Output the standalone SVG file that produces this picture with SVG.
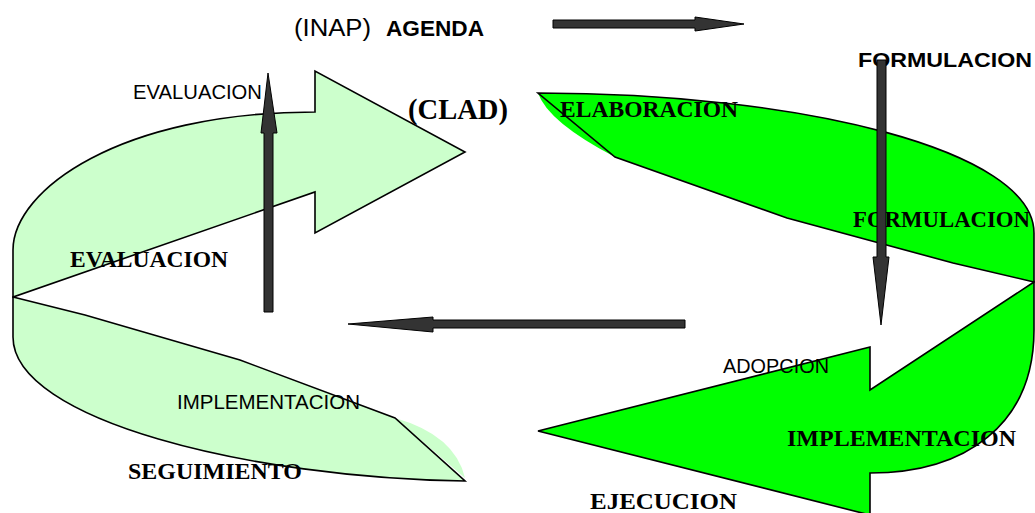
<svg xmlns="http://www.w3.org/2000/svg" xmlns:xlink="http://www.w3.org/1999/xlink" width="1035" height="513" viewBox="0 0 1035 513">
<style>
.lg{fill:#CCFFCC;stroke:none}
.dg{fill:#00FF00;stroke:none}
.ol{fill:none;stroke:#000;stroke-width:1.6;stroke-linejoin:miter}
.dk{fill:#333333;stroke:#000;stroke-width:1}
.sans{font-family:"Liberation Sans",Arial,sans-serif;fill:#000}
.sb{font-family:"Liberation Sans",Arial,sans-serif;font-weight:bold;fill:#000}
.serif{font-family:"Liberation Serif","Times New Roman",serif;font-weight:bold;fill:#000}
</style>
<defs>
<path id="pA" d="M13,297 L13,250 C13,190 120,112 315,112 L315,71 L465,152 L315,233 L315,192 Z"/>
<path id="pB" d="M13,297 L85,315 L240,360 L395,418 L465,481 C250,478 13,420 13,337 Z"/>
<path id="pC" d="M538,93 C800,93 1034,150 1034,233 L1034,282 L953,263 L787,218 L615,157 Z"/>
<path id="pD" d="M1034,282 L870,390 L870,347 L538,431 L870,515 L870,473 C965,473 1034,425 1034,330 Z"/>
</defs>
<rect width="1035" height="513" fill="#fff"/>
<g id="node-evaluacion-arrow"><use xlink:href="#pA" href="#pA" class="lg"/></g>
<g id="node-seguimiento"><use xlink:href="#pB" href="#pB" class="lg"/><path class="lg" d="M395,418 Q455,435 465,478 Z"/></g>
<g id="node-elaboracion"><use xlink:href="#pC" href="#pC" class="dg"/><path class="dg" d="M538,93 Q548,122 615,157 Z"/></g>
<g id="node-implementacion-arrow"><use xlink:href="#pD" href="#pD" class="dg"/></g>
<g id="labels">
<text class="sans" x="294" y="36" font-size="23" textLength="77" lengthAdjust="spacingAndGlyphs">(INAP)</text>
<text class="sb" x="386" y="36" font-size="22" textLength="98" lengthAdjust="spacingAndGlyphs">AGENDA</text>
<text class="sb" x="858" y="67" font-size="20.5" textLength="174" lengthAdjust="spacingAndGlyphs">FORMULACION</text>
<text class="sans" x="133" y="99" font-size="20" textLength="129" lengthAdjust="spacingAndGlyphs">EVALUACION</text>
<text class="serif" x="408" y="119" font-size="28.5" textLength="100" lengthAdjust="spacingAndGlyphs">(CLAD)</text>
<text class="serif" x="560" y="117" font-size="24" textLength="178" lengthAdjust="spacingAndGlyphs">ELABORACION</text>
<text class="serif" x="853" y="227" font-size="23" textLength="177" lengthAdjust="spacingAndGlyphs">FORMULACION</text>
<text class="serif" x="70" y="267" font-size="23.5" textLength="158" lengthAdjust="spacingAndGlyphs">EVALUACION</text>
<text class="sans" x="723" y="373" font-size="20" textLength="106" lengthAdjust="spacingAndGlyphs">ADOPCION</text>
<text class="sans" x="177" y="409" font-size="20" textLength="183" lengthAdjust="spacingAndGlyphs">IMPLEMENTACION</text>
<text class="serif" x="787" y="446" font-size="24" textLength="229" lengthAdjust="spacingAndGlyphs">IMPLEMENTACION</text>
<text class="serif" x="128" y="479" font-size="24" textLength="174" lengthAdjust="spacingAndGlyphs">SEGUIMIENTO</text>
<text class="serif" x="590" y="509" font-size="24" textLength="147" lengthAdjust="spacingAndGlyphs">EJECUCION</text>
</g>
<g id="outlines">
<use xlink:href="#pA" href="#pA" class="ol"/>
<use xlink:href="#pB" href="#pB" class="ol"/>
<use xlink:href="#pC" href="#pC" class="ol"/>
<use xlink:href="#pD" href="#pD" class="ol"/>
</g>
<g id="connectors">
<path class="dk" d="M553,20 L695,20 L695,17 L744,24 L695,31 L695,28 L553,28 Z"/>
<path class="dk" d="M877,60 L886,60 L886,257 L889,257 L881,325 L873,257 L877,257 Z"/>
<path class="dk" d="M264,312 L273,312 L273,133 L277,133 L268,73 L261,133 L264,133 Z"/>
<path class="dk" d="M685,320 L685,328 L433,328 L433,332 L348,324 L433,317 L433,320 Z"/>
</g>
</svg>
